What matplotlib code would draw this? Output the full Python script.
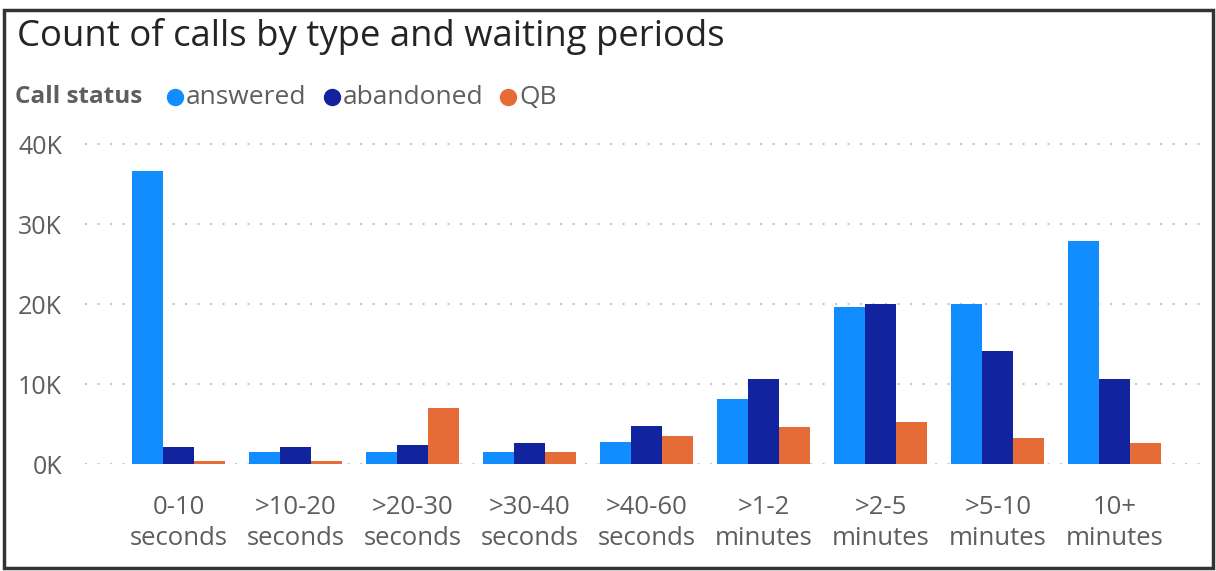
import matplotlib
matplotlib.use("Agg")
import matplotlib.pyplot as plt
import numpy as np
from matplotlib.patches import Rectangle
from matplotlib.lines import Line2D

categories = ["0-10\nseconds", ">10-20\nseconds", ">20-30\nseconds", ">30-40\nseconds",
              ">40-60\nseconds", ">1-2\nminutes", ">2-5\nminutes", ">5-10\nminutes", "10+\nminutes"]
answered = [36600, 1500, 1500, 1500, 2750, 8100, 19600, 20000, 27900]
abandoned = [2100, 2100, 2400, 2600, 4700, 10600, 20000, 14100, 10600]
qb = [400, 400, 7000, 1500, 3500, 4600, 5200, 3200, 2600]
series_names = ["answered", "abandoned", "QB"]
yticks = [0, 10000, 20000, 30000, 40000]
ytick_labels = ["0K", "10K", "20K", "30K", "40K"]

colors = ["#118DFF", "#12239E", "#E66C37"]
text_gray = "#605E5C"
font = ["Open Sans", "DejaVu Sans"]

W, H = 1216, 571
fig = plt.figure(figsize=(W / 100, H / 100), dpi=100)
fig.patch.set_facecolor("white")

ax = fig.add_axes([85 / W, (H - 464) / H, (1205 - 85) / W, (464 - 136) / H])
x = np.arange(len(categories))
bw = 0.265
for i, (vals, c) in enumerate(zip([answered, abandoned, qb], colors)):
    ax.bar(x + (i - 1) * bw, vals, width=bw, color=c, zorder=3)

ax.set_xlim(-0.80, 8.77)
ax.set_ylim(0, 41000)
ax.set_yticks(yticks)
ax.set_yticklabels(ytick_labels)
ax.set_xticks(x)
ax.set_xticklabels(categories, linespacing=1.35)
for s in ax.spines.values():
    s.set_visible(False)
ax.tick_params(axis="both", length=0, colors=text_gray)
ax.tick_params(axis="y", pad=16.5, labelsize=18)
ax.tick_params(axis="x", pad=22, labelsize=18.5)
for lab in ax.get_xticklabels() + ax.get_yticklabels():
    lab.set_family(font)
ax.yaxis.grid(True, linestyle=(0, (1, 5)), color="#C8C8C8", linewidth=1.5, zorder=0)
ax.set_axisbelow(True)

fig.text(17 / W, 1 - 46 / H, "Count of calls by type and waiting periods", fontsize=26.3,
         color="#252423", family=font, va="baseline", ha="left")

fig.text(15 / W, 1 - 97 / H, "Call status", fontsize=17.5, fontweight="bold",
         color=text_gray, family=font, va="center", ha="left")
legend_x = [175, 332, 508]
for lx, name, c in zip(legend_x, series_names, colors):
    fig.add_artist(Line2D([lx / W], [1 - 97 / H], marker="o", markersize=11.5,
                          color=c, linestyle="none", transform=fig.transFigure))
    fig.text((lx + 11) / W, 1 - 97 / H, name, fontsize=19, color=text_gray,
             family=font, va="center", ha="left")

fig.add_artist(Rectangle((4 / W, 3 / H), (1213 - 4) / W, (561 - 3) / H,
                         transform=fig.transFigure, fill=False, edgecolor="#333333",
                         linewidth=2.5))

fig.savefig("out.png", dpi=100)
